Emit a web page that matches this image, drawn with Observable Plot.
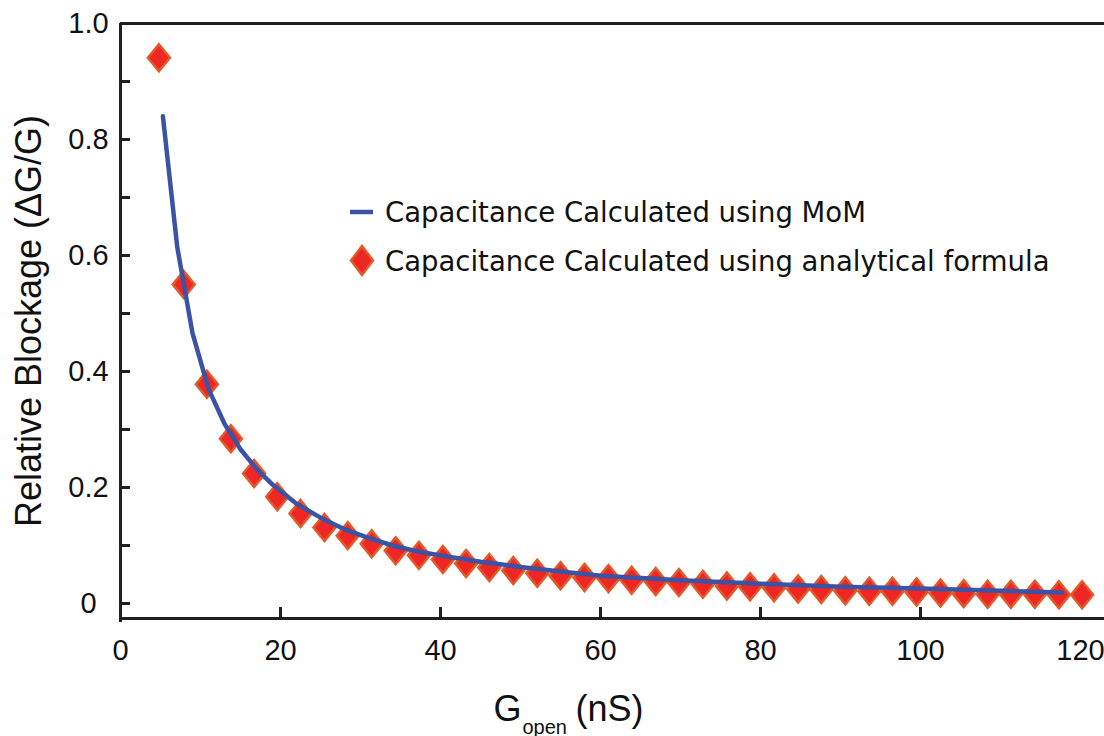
<!DOCTYPE html>
<html><head><meta charset="utf-8">
<script src="https://cdn.jsdelivr.net/npm/d3@7"></script>
<script src="https://cdn.jsdelivr.net/npm/@observablehq/plot@0.6"></script>
<style>
html,body{margin:0;padding:0;background:#fff;}
#wrap{position:relative;width:1104px;height:736px;}
.leg{position:absolute;left:348px;display:flex;align-items:center;font-family:"DejaVu Sans";font-size:27.5px;color:#111;white-space:nowrap;line-height:36px;height:36px;}
.leg svg{display:block;}
</style></head><body><div id="wrap"></div>
<script>
// Analytical formula points (G_open in nS, relative blockage)
const analyticalG = [4.8, 7.9, 10.8, 13.8, 16.7, 19.6, 22.5, 25.5, 28.4, 31.4, 34.4, 37.3, 40.3, 43.2, 46.1, 49.1, 52.1, 55.0, 58.0, 61.0, 63.9, 66.9, 69.8, 72.8, 75.8, 78.7, 81.7, 84.7, 87.6, 90.6, 93.6, 96.5, 99.5, 102.5, 105.4, 108.4, 111.3, 114.3, 117.3, 120.2];
const analyticalB = [0.941, 0.55, 0.378, 0.284, 0.224, 0.184, 0.155, 0.131, 0.117, 0.103, 0.091, 0.083, 0.076, 0.069, 0.062, 0.057, 0.052, 0.048, 0.045, 0.043, 0.040, 0.038, 0.036, 0.033, 0.030, 0.029, 0.027, 0.025, 0.024, 0.022, 0.021, 0.021, 0.020, 0.018, 0.017, 0.016, 0.016, 0.016, 0.015, 0.015];
// MoM curve
const momG = [5.3, 7.1, 9.0, 11, 13, 15, 17, 19, 22, 25, 28, 31, 34, 37, 40, 45, 50, 55, 60, 70, 80, 90, 100, 110, 117.7];
const momB = [0.84, 0.614, 0.466, 0.37, 0.31, 0.266, 0.232, 0.205, 0.172, 0.148, 0.128, 0.113, 0.100, 0.090, 0.083, 0.072, 0.063, 0.055, 0.048, 0.040, 0.034, 0.029, 0.026, 0.022, 0.019];

const yTickValues = [0, 0.2, 0.4, 0.6, 0.8, 1.0];
const yMinorTicks = [0, 0.1, 0.2, 0.3, 0.4, 0.5, 0.6, 0.7, 0.8, 0.9];
const xTickValues = [0, 20, 40, 60, 80, 100, 120];
const xInnerTicks = [20, 40, 60, 80, 100];
const legendLabels = ["Capacitance Calculated using MoM", "Capacitance Calculated using analytical formula"];
const yTitle = "Relative Blockage (ΔG/G)";
const xTitleMain = "G", xTitleSub = "open", xTitleUnit = "(nS)";

const BLUE = "#3B53A4", RED = "#EE2624", ORANGE = "#E2592A", AX = "#231F20";

const analytical = analyticalG.map((g, i) => ({g, b: analyticalB[i]}));
const mom = momG.map((g, i) => ({g, b: momB[i]}));

const diamond = {draw(ctx) { const w = 11, h = 13.5; ctx.moveTo(0, -h); ctx.lineTo(w, 0); ctx.lineTo(0, h); ctx.lineTo(-w, 0); ctx.closePath(); }};

const chart = Plot.plot({
  width: 1104, height: 736,
  marginLeft: 120, marginRight: 0, marginTop: 23, marginBottom: 118,
  style: {fontFamily: "'Liberation Sans', Arial, sans-serif", background: "#fff", color: "#111"},
  x: {domain: [0, 123], label: null},
  y: {domain: [-0.02586, 1.0], label: null},
  marks: [
    Plot.dot(analytical, {x: "g", y: "b", symbol: diamond, fill: RED, stroke: ORANGE, strokeWidth: 2.5}),
    Plot.line(mom, {x: "g", y: "b", stroke: BLUE, strokeWidth: 4.5}),
    Plot.tickY(yMinorTicks, {y: d => d, insetRight: 974, stroke: AX, strokeWidth: 3}),
    Plot.tickX(xInnerTicks, {x: d => d, insetTop: 584, stroke: AX, strokeWidth: 3}),
    Plot.ruleX([0], {stroke: AX, strokeWidth: 3, insetBottom: -4}),
    Plot.ruleY([-0.02586], {stroke: AX, strokeWidth: 3}),
    Plot.ruleY([1.0], {stroke: AX, strokeWidth: 3}),
    Plot.axisY(yTickValues, {tickSize: 0, tickPadding: 32, textAnchor: "middle", fontSize: 29, tickFormat: d => d === 0 ? "0" : d.toFixed(1), label: null}),
    Plot.axisX(xTickValues, {tickSize: 0, tickPadding: 21, fontSize: 29, label: null}),
    Plot.text([yTitle], {text: d => d, frameAnchor: "left", dx: -91, textAnchor: "middle", lineAnchor: "middle", rotate: -90, fontSize: 36}),
    Plot.text([xTitleMain], {text: d => d, frameAnchor: "bottom-left", dx: 373, dy: 102, textAnchor: "start", lineAnchor: "bottom", fontSize: 36}),
    Plot.text([xTitleSub], {text: d => d, frameAnchor: "bottom-left", dx: 402, dy: 115, textAnchor: "start", lineAnchor: "bottom", fontSize: 20}),
    Plot.text([xTitleUnit], {text: d => d, frameAnchor: "bottom-left", dx: 455, dy: 102, textAnchor: "start", lineAnchor: "bottom", fontSize: 36})
  ]
});
const wrap = document.getElementById("wrap");
wrap.appendChild(chart);

// Legend overlay
const rows = [
  {label: legendLabels[0], top: 194, svg: `<svg width="37" height="36"><line x1="2" x2="25" y1="18" y2="18" stroke="${BLUE}" stroke-width="4.5"/></svg>`},
  {label: legendLabels[1], top: 243, svg: `<svg width="37" height="36"><path d="M14,3L25,17.5L14,32L3,17.5Z" fill="${RED}" stroke="${ORANGE}" stroke-width="2.5"/></svg>`}
];
for (const r of rows) {
  const div = document.createElement("div");
  div.className = "leg";
  div.style.top = r.top + "px";
  div.innerHTML = r.svg + `<span>${r.label}</span>`;
  wrap.appendChild(div);
}
</script></body></html>
